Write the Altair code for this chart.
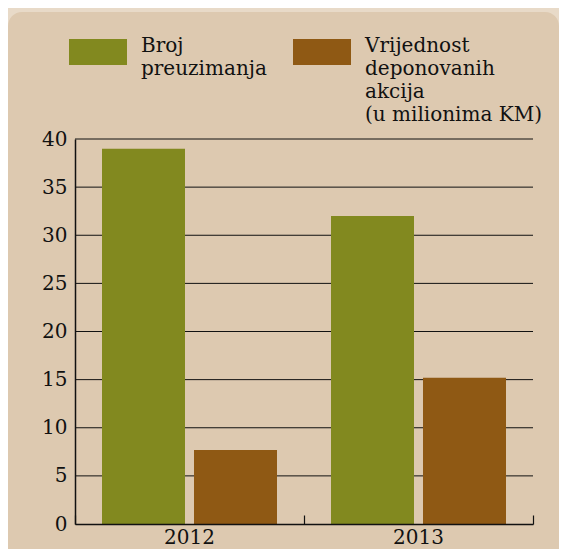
import altair as alt
import pandas as pd

# ---- data ----
years = ["2012", "2013"]
series = ["Broj preuzimanja", "Vrijednost deponovanih akcija"]
broj_preuzimanja = [39, 32]
vrijednost_akcija = [7.7, 15.2]
y_ticks = [0, 5, 10, 15, 20, 25, 30, 35, 40]
legend_lines = [["Broj", "preuzimanja", "", ""],
                ["Vrijednost", "deponovanih", "akcija", "(u milionima KM)"]]

# ---- style ----
GREEN = "#82891f"
BROWN = "#8f5914"
PANEL = "#ddc9b0"
OUTER = "#e8dac8"
INK = "#111111"
FONT = "DejaVu Serif"
W, H = 458, 385
PAD = {"left": 67, "top": 131, "right": 26, "bottom": 25}

rows = []
for i, yr in enumerate(years):
    rows.append({"year": yr, "series": series[0], "value": broj_preuzimanja[i]})
    rows.append({"year": yr, "series": series[1], "value": vrijednost_akcija[i]})
df = pd.DataFrame(rows)
grid_df = pd.DataFrame({"v": [t for t in y_ticks if t > 0]})

def arr(lines):
    return "[" + ", ".join("'" + s + "'" for s in lines) + "]"

label_expr = "datum.label == '%s' ? %s : %s" % (series[0], arr(legend_lines[0]), arr(legend_lines[1]))

y_scale = alt.Scale(domain=[0, 40], nice=False)
x_scale = alt.Scale(paddingInner=0, paddingOuter=0)
y_axis = alt.Axis(values=y_ticks, title=None, grid=False, ticks=False, domain=True,
                  domainColor=INK, domainWidth=1.5, labelPadding=8, labelFont=FONT,
                  labelFontSize=20, labelColor=INK, zindex=1)

panel = alt.Chart(alt.Data(values=[{"a": 1}])).mark_rect(
    color=PANEL, cornerRadius=14
).encode(
    x=alt.value(-PAD["left"]), x2=alt.value(W + PAD["right"]),
    y=alt.value(-PAD["top"] + 4), y2=alt.value(H + 60)
)

grid = alt.Chart(grid_df).mark_rule(color=INK, strokeWidth=1).encode(
    y=alt.Y("v:Q", scale=y_scale, axis=y_axis)
)

bars = alt.Chart(df).mark_bar().encode(
    x=alt.X("year:N", scale=x_scale, sort=years,
            axis=alt.Axis(title=None, labelAngle=0, ticks=False, grid=False, domain=True,
                          domainColor=INK, domainWidth=1.5, labelPadding=3, labelFont=FONT,
                          labelFontSize=20, labelColor=INK, zindex=1)),
    xOffset=alt.XOffset("series:N", sort=series,
                        scale=alt.Scale(paddingInner=0.0978, paddingOuter=0.2935)),
    y=alt.Y("value:Q", scale=y_scale, axis=y_axis),
    color=alt.Color("series:N", sort=series,
                    scale=alt.Scale(domain=series, range=[GREEN, BROWN]),
                    legend=alt.Legend(orient="none", legendX=-6, legendY=-116,
                                      direction="horizontal", columns=2, title=None,
                                      symbolType="M-1,-0.448H1V0.448H-1Z", symbolSize=3364,
                                      symbolStrokeWidth=0, labelExpr=label_expr,
                                      labelFont=FONT, labelFontSize=20, labelColor=INK,
                                      labelOffset=14, columnPadding=26, padding=0,
                                      labelBaseline="alphabetic", labelLimit=400)),
)

ticks = alt.Chart(df).mark_tick(opacity=0).encode(
    x=alt.X("year:N", scale=x_scale, sort=years,
            axis=alt.Axis(orient="top", offset=-H, title=None, labels=False, domain=False,
                          grid=False, ticks=True, tickSize=9, tickBand="extent",
                          tickColor=INK, tickWidth=1.2, zindex=1)),
)

chart = alt.layer(panel, grid, bars, ticks).resolve_axis(x="independent").properties(
    width=W, height=H,
    autosize=alt.AutoSizeParams(type="none"),
    padding=PAD,
    background=OUTER,
).configure(
    font=FONT,
    view={"strokeWidth": 0},
    style={"guide-label": {"lineHeight": 23}},
)

chart.save("out.html", embed_options={"renderer": "svg", "actions": False})
